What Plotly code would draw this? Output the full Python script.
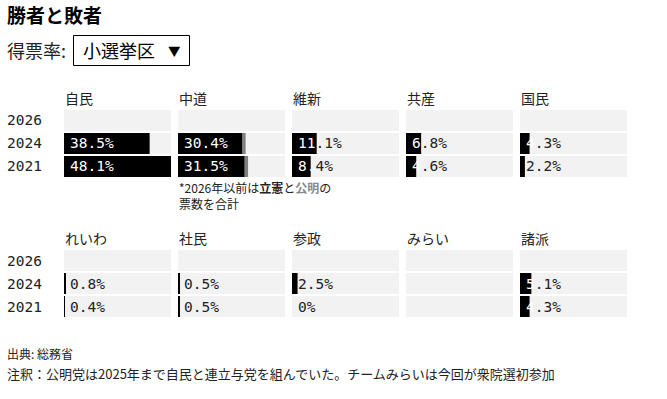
import plotly.graph_objects as go

# ---------------- data ----------------
parties = ["自民", "中道", "維新", "共産", "国民", "れいわ", "社民", "参政", "みらい", "諸派"]
years = ["2026", "2024", "2021"]
votes_2026 = [None, None, None, None, None, None, None, None, None, None]
votes_2024 = [38.5, 30.4, 11.1, 6.8, 4.3, 0.8, 0.5, 2.5, None, 5.1]
votes_2021 = [48.1, 31.5, 8.4, 4.6, 2.2, 0.4, 0.5, 0.0, None, 4.3]
# 中道 before 2026 = 立憲 + 公明
cdp_split = {"2024": 29.0, "2021": 30.0}
komei_split = {"2024": 1.4, "2021": 1.5}

title = "勝者と敗者"
dropdown_label = "得票率:"
dropdown_value = "小選挙区"
source = "出典: 総務省"
note = "注釈：公明党は2025年まで自民と連立与党を組んでいた。チームみらいは今回が衆院選初参加"
footnote = "*2026年以前は<b>立憲</b>と<b><span style='color:#888888'>公明</span></b>の<br>票数を合計"

# ---------------- layout constants ----------------
W, H = 667, 399
COL_X0, COL_STEP, COL_W = 64, 114, 107
BLOCK_TOP = [109, 249]
BLOCK_H = 69
HEADER_Y = [98, 237.5]
SANS = "Noto Sans CJK JP"
MONO = "DejaVu Sans Mono"
DARK = "#222222"
BG = "#f2f2f2"
MONO_SIZE = 14.5
CHAR_W = 0.602 * MONO_SIZE
LABEL_SHIFT = 4          # annotation xshift
CELL_START = LABEL_SHIFT + 1  # plus annotation border padding

values_by_year = {"2026": votes_2026, "2024": votes_2024, "2021": votes_2021}
all_vals = [v for arr in values_by_year.values() for v in arr if v is not None]
xmax = max(all_vals)
cat_order = years[::-1]  # bottom to top


def px_x(p):
    return p / W


def px_y(p):
    return 1 - p / H


def fmt(v):
    return "0%" if v == 0 else f"{v:.1f}%"


def label_html(v):
    s = fmt(v)
    bar_px = v / xmax * COL_W
    n_white = 0
    for k in range(len(s)):
        frac = 0.35 if k == 0 else 0.5
        if CELL_START + (k + frac) * CHAR_W < bar_px:
            n_white = k + 1
        else:
            break
    if n_white == 0:
        return s
    return f"<span style='color:#ffffff'>{s[:n_white]}</span>{s[n_white:]}"


fig = go.Figure()
annotations = []
layout_axes = {}

for i, party in enumerate(parties):
    row, col = divmod(i, 5)
    n = i + 1
    xa = "x" if n == 1 else f"x{n}"
    ya = "y" if n == 1 else f"y{n}"
    x0 = COL_X0 + col * COL_STEP
    top = BLOCK_TOP[row]
    layout_axes["xaxis" if n == 1 else f"xaxis{n}"] = dict(
        domain=[px_x(x0), px_x(x0 + COL_W)], range=[0, xmax], visible=False,
        fixedrange=True, anchor=ya)
    layout_axes["yaxis" if n == 1 else f"yaxis{n}"] = dict(
        domain=[px_y(top + BLOCK_H), px_y(top)], type="category",
        categoryorder="array", categoryarray=cat_order, range=[-0.5, 2.5],
        visible=False, fixedrange=True, anchor=xa)

    # background track
    fig.add_trace(go.Bar(x=[xmax] * len(years), y=years, orientation="h",
                         marker=dict(color=BG, line=dict(width=0)),
                         xaxis=xa, yaxis=ya, hoverinfo="skip", showlegend=False))
    vals = [values_by_year[y][i] for y in years]
    if party == "中道":
        cdp = [cdp_split.get(y) for y in years]
        kom = [komei_split.get(y) for y in years]
        fig.add_trace(go.Bar(x=cdp, y=years, orientation="h",
                             marker=dict(color="#000000", line=dict(width=0)),
                             xaxis=xa, yaxis=ya, hoverinfo="skip", showlegend=False))
        fig.add_trace(go.Bar(x=kom, y=years, base=[c if c is not None else 0 for c in cdp],
                             orientation="h",
                             marker=dict(color="#808080", line=dict(width=0)),
                             xaxis=xa, yaxis=ya, hoverinfo="skip", showlegend=False))
    else:
        fig.add_trace(go.Bar(x=vals, y=years, orientation="h",
                             marker=dict(color="#000000", line=dict(width=0)),
                             xaxis=xa, yaxis=ya, hoverinfo="skip", showlegend=False))

    for y, v in zip(years, vals):
        if v is None:
            continue
        annotations.append(dict(
            x=0, y=cat_order.index(y), xref=xa, yref=ya, xanchor="left", yanchor="middle",
            xshift=LABEL_SHIFT, text=label_html(v), showarrow=False,
            font=dict(family=MONO, size=MONO_SIZE, color=DARK)))

    # header
    annotations.append(dict(
        x=px_x(x0 - 1), y=px_y(HEADER_Y[row]), xref="paper", yref="paper",
        xanchor="left", yanchor="middle", text=party, showarrow=False,
        font=dict(family=SANS, size=14, color=DARK)))

# year labels
for row in range(2):
    ya = "y" if row == 0 else "y6"
    for y in years:
        annotations.append(dict(
            x=px_x(5), y=cat_order.index(y), xref="paper", yref=ya, xanchor="left",
            yanchor="middle", text=y, showarrow=False,
            font=dict(family=MONO, size=MONO_SIZE, color=DARK)))

# title & dropdown look
annotations.append(dict(x=px_x(5), y=px_y(14), xref="paper", yref="paper",
                        xanchor="left", yanchor="middle", text=f"<b>{title}</b>",
                        showarrow=False, font=dict(family=SANS, size=19, color="#000000")))
annotations.append(dict(x=px_x(5), y=px_y(50), xref="paper", yref="paper",
                        xanchor="left", yanchor="middle", text=dropdown_label,
                        showarrow=False, font=dict(family=SANS, size=18, color=DARK)))
annotations.append(dict(x=px_x(81), y=px_y(50), xref="paper", yref="paper",
                        xanchor="left", yanchor="middle", text=dropdown_value,
                        showarrow=False, font=dict(family=SANS, size=18, color="#000000")))
annotations.append(dict(x=px_x(166), y=px_y(50), xref="paper", yref="paper",
                        xanchor="left", yanchor="middle", text="▼",
                        showarrow=False, font=dict(family=SANS, size=12.5, color="#000000")))

# footnote under 中道
annotations.append(dict(x=px_x(177), y=px_y(195.5), xref="paper", yref="paper",
                        xanchor="left", yanchor="middle", align="left", text=footnote,
                        showarrow=False, font=dict(family=SANS, size=12, color=DARK)))

# footer
annotations.append(dict(x=px_x(5), y=px_y(353), xref="paper", yref="paper",
                        xanchor="left", yanchor="middle", text=source,
                        showarrow=False, font=dict(family=SANS, size=12, color=DARK)))
annotations.append(dict(x=px_x(5), y=px_y(373), xref="paper", yref="paper",
                        xanchor="left", yanchor="middle", text=note,
                        showarrow=False, font=dict(family=SANS, size=13, color=DARK)))

shapes = [dict(type="rect", xref="paper", yref="paper",
               x0=px_x(73.5), x1=px_x(189.5), y0=px_y(65.5), y1=px_y(35.5),
               line=dict(color="#000000", width=1), fillcolor="#ffffff", layer="below")]

fig.update_layout(
    width=W, height=H, margin=dict(l=0, r=0, t=0, b=0),
    paper_bgcolor="#ffffff", plot_bgcolor="rgba(0,0,0,0)",
    barmode="overlay", bargap=2 / 23,
    annotations=annotations, shapes=shapes, showlegend=False,
    **layout_axes)

fig.write_html("out.html", config={"displayModeBar": False})
